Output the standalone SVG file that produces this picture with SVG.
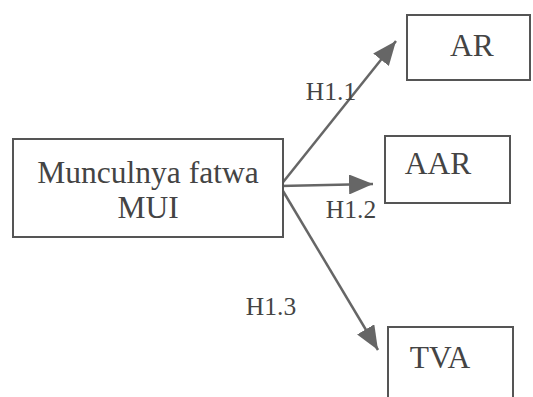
<svg xmlns="http://www.w3.org/2000/svg" width="533" height="397" viewBox="0 0 533 397">
<style>
.box{fill:#fff;stroke:#555;stroke-width:2}
.t{font-family:"Liberation Serif",serif;fill:#444;text-anchor:middle}
.big{font-size:31.5px}
.lbl{font-size:25.5px}
.ar{stroke:#666;stroke-width:2.5;fill:none;marker-end:url(#ah)}
</style>
<defs>
<marker id="ah" markerUnits="userSpaceOnUse" markerWidth="26" markerHeight="20" refX="24" refY="10" orient="auto">
<path d="M0,0 L24,10 L0,20 Z" fill="#666"/>
</marker>
</defs>
<rect width="533" height="397" fill="#fff"/>
<g id="connectors">
<line class="ar" x1="280" y1="186" x2="396" y2="41"/>
<line class="ar" x1="280" y1="186" x2="373" y2="184"/>
<line class="ar" x1="280" y1="186" x2="378" y2="350"/>
<text class="t lbl" x="331" y="100">H1.1</text>
<text class="t lbl" x="351" y="218">H1.2</text>
<text class="t lbl" x="271" y="315">H1.3</text>
</g>
<g id="main">
<rect class="box" x="13" y="139" width="270" height="98"/>
<text class="t big" x="148" y="183">Munculnya fatwa</text>
<text class="t big" x="148" y="218">MUI</text>
</g>
<g id="ar">
<rect class="box" x="407" y="15" width="123" height="65"/>
<text class="t big" x="472" y="56">AR</text>
</g>
<g id="aar">
<rect class="box" x="385" y="136" width="125" height="67"/>
<text class="t big" x="438" y="174">AAR</text>
</g>
<g id="tva">
<rect class="box" x="388" y="327" width="125" height="80"/>
<text class="t big" x="440" y="368">TVA</text>
</g>
</svg>
